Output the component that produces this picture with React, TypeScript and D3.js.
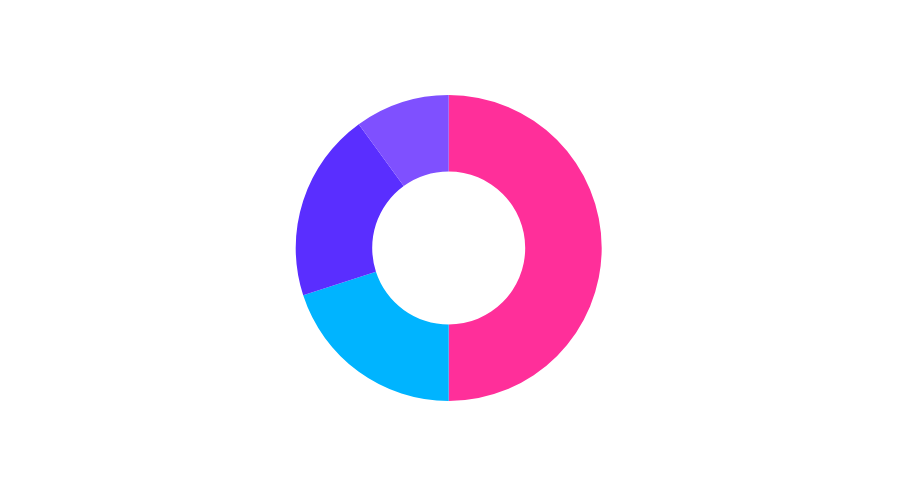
import React from "react";
import * as d3 from "d3";

const categories = ["A", "B", "C", "D"];
const values = [50, 20, 20, 10];
const colors = ["#FF2F9A", "#00B4FF", "#5A2EFF", "#7F50FF"];

export default function App() {
  const width = 900;
  const height = 501;
  const cx = 448.7;
  const cy = 248;
  const outer = 153;
  const inner = 76.5;
  const data = categories.map((c, i) => ({ c, v: values[i], color: colors[i] }));
  const pie = d3.pie<any>().sort(null).value((d) => d.v);
  const arc = d3.arc<any>().innerRadius(inner).outerRadius(outer);
  const arcs = pie(data);
  return (
    <svg
      width={width}
      height={height}
      style={{ position: "absolute", left: 0, top: 0, display: "block" }}
    >
      <rect width={width} height={height} fill="#fff" />
      <g transform={`translate(${cx},${cy})`}>
        {arcs.map((a, i) => (
          <path key={i} d={arc(a) as string} fill={a.data.color} />
        ))}
      </g>
    </svg>
  );
}
